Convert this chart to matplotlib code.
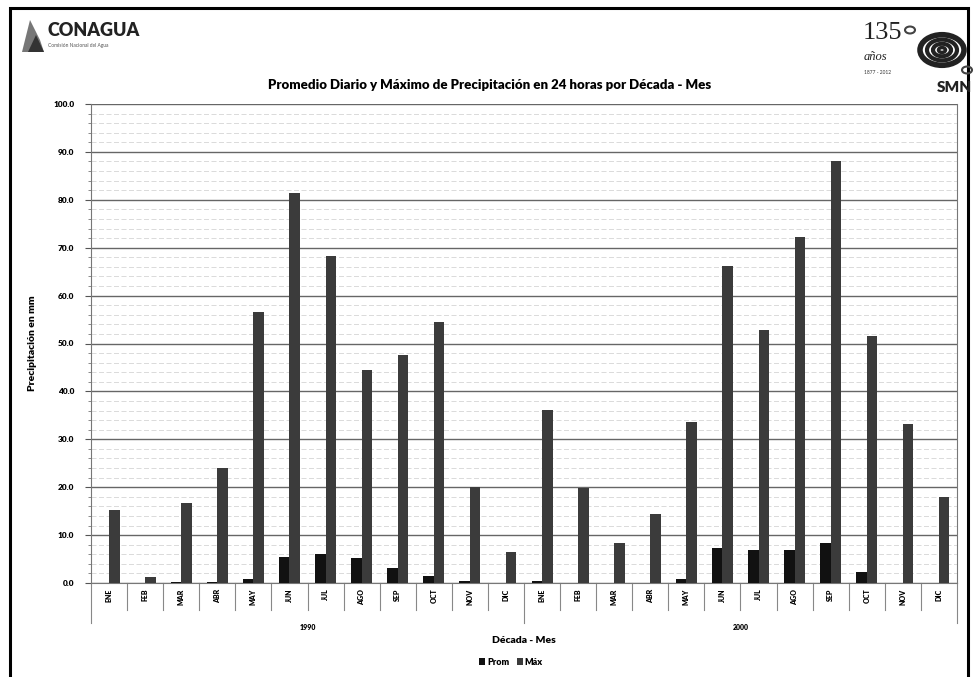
import matplotlib
matplotlib.use("Agg")
import matplotlib.pyplot as plt
import numpy as np
from matplotlib.patches import Rectangle, Circle, Polygon

plt.rcParams['font.family'] = ['Lato', 'DejaVu Sans']

months = ["ENE", "FEB", "MAR", "ABR", "MAY", "JUN", "JUL", "AGO", "SEP", "OCT", "NOV", "DIC"]
decades = ["1990", "2000"]
prom_1990 = [0.0, 0.0, 0.2, 0.2, 0.8, 5.5, 6.1, 5.3, 3.1, 1.5, 0.4, 0.0]
prom_2000 = [0.5, 0.1, 0.0, 0.1, 0.8, 7.4, 6.8, 6.8, 8.3, 2.2, 0.1, 0.1]
max_1990 = [15.3, 1.2, 16.8, 24.0, 56.5, 81.5, 68.2, 44.5, 47.5, 54.5, 20.0, 6.5]
max_2000 = [36.2, 19.9, 8.3, 14.4, 33.6, 66.2, 52.9, 72.3, 88.0, 51.6, 33.2, 18.0]

prom = prom_1990 + prom_2000
maxv = max_1990 + max_2000
n = len(prom)
x = np.arange(n)

W, H = 974, 677
fig = plt.figure(figsize=(W / 100, H / 100), dpi=100)
fig.patch.set_facecolor('white')

ax = fig.add_axes([91 / W, 1 - 583 / H, (957 - 91) / W, (583 - 104) / H])
bw = 0.29
ax.bar(x - bw / 2, prom, width=bw, color='#111111', label='Prom', zorder=3)
ax.bar(x + bw / 2, maxv, width=bw, color='#3b3b3b', label='Máx', zorder=3)

ax.set_xlim(-0.5, n - 0.5)
ax.set_ylim(0, 100)
ax.set_yticks(np.arange(0, 101, 10))
ax.set_yticklabels([f"{v:.1f}" for v in np.arange(0, 101, 10)], fontsize=6, fontweight='heavy')
ax.set_yticks(np.arange(0, 101, 2), minor=True)
ax.yaxis.grid(True, which='major', color='#666666', linewidth=1.0, zorder=0)
ax.yaxis.grid(True, which='minor', color='#d4d4d4', linewidth=0.6, linestyle=(0, (6, 3)), zorder=0)
ax.tick_params(axis='y', which='major', length=4, color='#555555', pad=8)
ax.tick_params(axis='y', which='minor', length=2, color='#777777')
ax.set_axisbelow(True)

ax.spines['top'].set_visible(False)
ax.spines['left'].set_color('#777777')
ax.spines['right'].set_color('#777777')
ax.spines['bottom'].set_color('#777777')

ax.set_xticks([])
trans = ax.get_xaxis_transform()
for b in np.arange(0.5, n - 1, 1.0):
    if b == 11.5:
        continue
    ax.plot([b, b], [0, -0.056], transform=trans, color='#888888', lw=0.8, clip_on=False)
for b in [-0.5, 11.5, n - 0.5]:
    ax.plot([b, b], [0, -0.084], transform=trans, color='#888888', lw=0.8, clip_on=False)
for i, m in enumerate(months * 2):
    ax.text(x[i], -0.012, m, transform=trans, rotation=90, ha='center', va='top',
            fontsize=5, fontweight='heavy')
for j, d in enumerate(decades):
    ax.text(5.5 + 12 * j, -0.092, d, transform=trans, ha='center', va='center',
            fontsize=5, fontweight='heavy')
ax.text(11.5, -0.121, "Década - Mes", transform=trans, ha='center', va='center',
        fontsize=7.5, fontweight='heavy')
ax.set_ylabel("Precipitación en mm", fontsize=7.5, fontweight='heavy', labelpad=12)

ax.legend(loc='center', bbox_to_anchor=(0.485, -0.165), ncol=2, frameon=False,
          handlelength=0.7, handleheight=0.7, columnspacing=0.8,
          handletextpad=0.2, prop={'weight': 'heavy', 'size': 6.5})

fig.text(490 / W, 1 - 85 / H, "Promedio Diario y Máximo de Precipitación en 24 horas por Década - Mes",
         ha='center', va='center', fontsize=9.5, fontweight='heavy')

# page frame
fig.add_artist(Rectangle((10 / W, -0.01), (968 - 10) / W, (1 - 8 / H) + 0.01, transform=fig.transFigure,
                         fill=False, edgecolor='black', linewidth=2.2))

# CONAGUA logo
fig.text(47 / W, 1 - 31 / H, "CONAGUA", ha='left', va='center', fontsize=13, fontweight='heavy',
         color='#222222')
fig.text(48 / W, 1 - 45 / H, "Comisión Nacional del Agua", ha='left', va='center', fontsize=3.5,
         color='#555555')
fig.add_artist(Polygon([(22 / W, 1 - 52 / H), (30 / W, 1 - 20 / H), (40 / W, 1 - 40 / H), (44 / W, 1 - 52 / H)],
                       closed=True, transform=fig.transFigure, facecolor='#777777', edgecolor='none'))
fig.add_artist(Polygon([(28 / W, 1 - 52 / H), (36 / W, 1 - 35 / H), (44 / W, 1 - 52 / H)],
                       closed=True, transform=fig.transFigure, facecolor='#333333', edgecolor='none'))

# SMN logo
fig.text(863 / W, 1 - 33 / H, "135", ha='left', va='center', fontsize=19, family='Liberation Serif',
         color='#222222')
fig.text(864 / W, 1 - 57 / H, "años", ha='left', va='center', fontsize=9, family='Liberation Serif',
         style='italic', color='#222222')
fig.text(864 / W, 1 - 73 / H, "1877 - 2012", ha='left', va='center', fontsize=3.5, color='#333333')
fig.text(972 / W, 1 - 88 / H, "SMN", ha='right', va='center', fontsize=11, fontweight='heavy',
         color='#222222')
cx, cy = 942, 50
for r, lw in [(22, 4), (15, 3), (9, 3), (3.5, 2.5)]:
    fig.add_artist(Circle((cx / W, 1 - cy / H), r / W, transform=fig.transFigure,
                          fill=False, edgecolor='#222222', linewidth=lw))
fig.add_artist(Circle((910 / W, 1 - 30 / H), 5 / W, transform=fig.transFigure,
                      fill=False, edgecolor='#444444', linewidth=1.5))
fig.add_artist(Circle((967 / W, 1 - 70 / H), 5 / W, transform=fig.transFigure,
                      fill=False, edgecolor='#444444', linewidth=1.5))

fig.savefig("out.png", dpi=100, facecolor='white')
